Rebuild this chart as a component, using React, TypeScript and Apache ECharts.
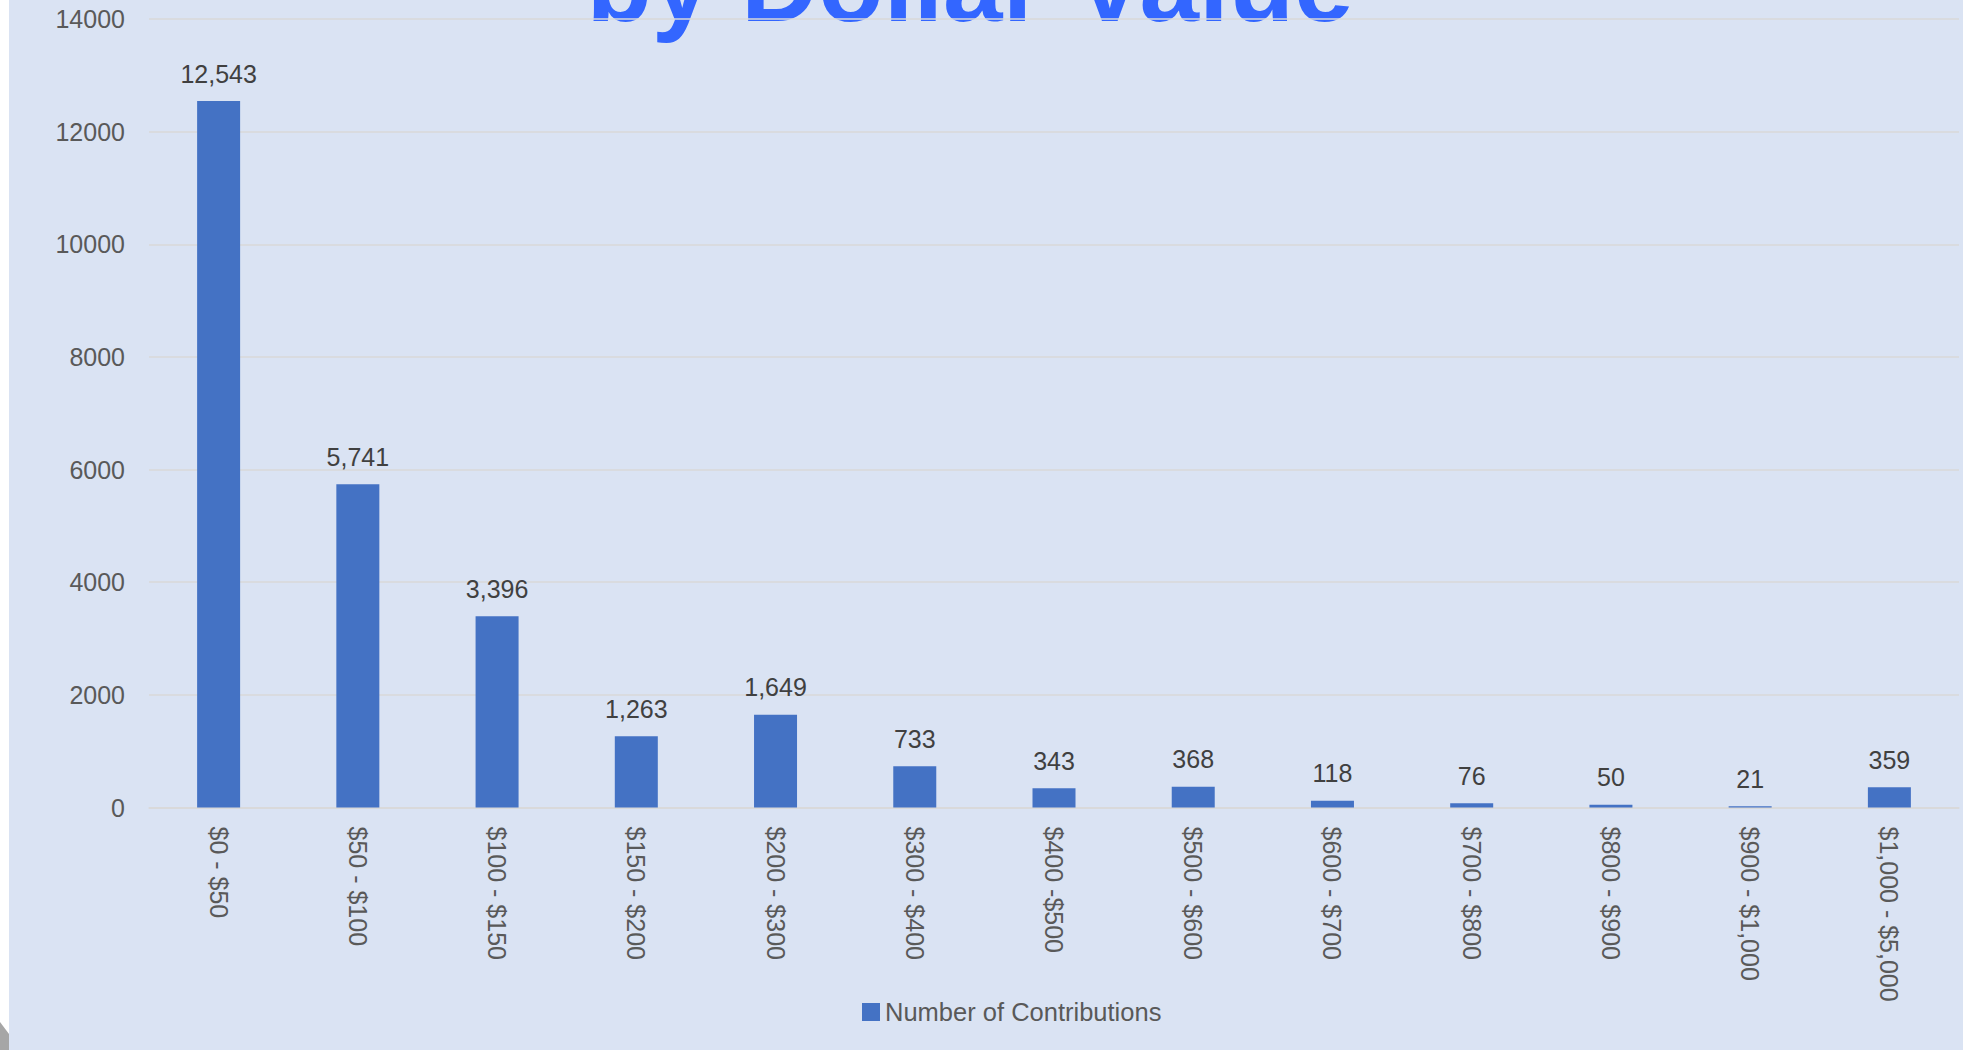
import React, { useEffect, useRef } from "react";
import * as echarts from "echarts";

const categories: string[] = [
  "$0 - $50",
  "$50 - $100",
  "$100 - $150",
  "$150 - $200",
  "$200 - $300",
  "$300 - $400",
  "$400 -$500",
  "$500 - $600",
  "$600 - $700",
  "$700 - $800",
  "$800 - $900",
  "$900 - $1,000",
  "$1,000 - $5,000",
];

const contributions: number[] = [12543, 5741, 3396, 1263, 1649, 733, 343, 368, 118, 76, 50, 21, 359];

const seriesName = "Number of Contributions";
const titleText = "by Dollar Value";

const FONT = "'Liberation Sans', Arial, sans-serif";

export default function App() {
  const ref = useRef<HTMLDivElement>(null);

  useEffect(() => {
    if (!ref.current) return;
    const chart = echarts.init(ref.current, null, { renderer: "svg" });
    chart.setOption({
      animation: false,
      backgroundColor: "#DAE3F3",
      textStyle: { fontFamily: FONT },
      grid: { left: 149, right: 4, top: 19, bottom: 242.5, containLabel: false },
      legend: {
        data: [seriesName],
        left: 857,
        top: 994,
        icon: "rect",
        itemWidth: 18,
        itemHeight: 18,
        textStyle: { fontSize: 25.5, color: "#595959", fontFamily: FONT },
      },
      xAxis: {
        type: "category",
        data: categories,
        axisLine: { show: true, lineStyle: { color: "#D9D9D9", width: 1.5 } },
        axisTick: { show: false },
        axisLabel: {
          rotate: -90,
          margin: 19,
          fontSize: 25,
          color: "#595959",
          fontFamily: FONT,
          interval: 0,
        },
      },
      yAxis: {
        type: "value",
        min: 0,
        max: 14000,
        interval: 2000,
        axisLine: { show: false },
        axisTick: { show: false },
        splitLine: { lineStyle: { color: "#D9D9D9", width: 1.5 } },
        axisLabel: {
          fontSize: 25,
          color: "#595959",
          margin: 24,
          fontFamily: FONT,
          formatter: (v: number) => String(v),
        },
      },
      series: [
        {
          name: seriesName,
          type: "bar",
          data: contributions,
          barWidth: 43,
          itemStyle: { color: "#4472C4" },
          label: {
            show: true,
            position: "top",
            distance: 15,
            fontSize: 25,
            color: "#404040",
            fontFamily: FONT,
            formatter: (p: any) => Number(p.value).toLocaleString("en-US"),
          },
        },
      ],
      graphic: [
        {
          type: "rect",
          shape: { x: 0, y: 0, width: 9, height: 1050 },
          style: { fill: "#FFFFFF" },
          silent: true,
        },
        {
          type: "polygon",
          shape: {
            points: [
              [0, 1022],
              [9, 1034],
              [9, 1050],
              [0, 1050],
            ],
          },
          style: { fill: "#A6A6A6" },
          silent: true,
        },
        {
          type: "text",
          x: 970,
          y: -16,
          style: {
            text: titleText,
            fontSize: 107,
            fontWeight: "bold",
            fontFamily: FONT,
            fill: "#3366FF",
            align: "center",
            verticalAlign: "middle",
          },
          silent: true,
        },
      ],
    });
    return () => chart.dispose();
  }, []);

  return (
    <div
      ref={ref}
      style={{ position: "fixed", left: 0, top: 0, width: 1963, height: 1050 }}
    />
  );
}
